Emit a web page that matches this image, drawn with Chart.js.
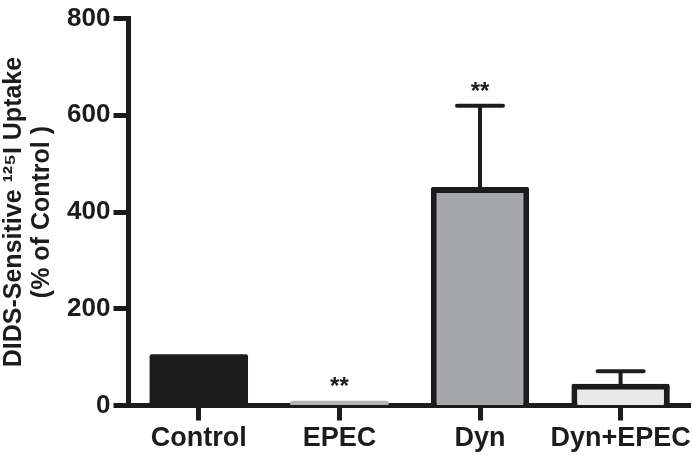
<!DOCTYPE html>
<html><head><meta charset="utf-8">
<script src="https://cdn.jsdelivr.net/npm/chart.js@4/dist/chart.umd.min.js"></script>
<style>html,body{margin:0;padding:0;background:#fff}</style>
</head><body>
<canvas id="c" width="693" height="456"></canvas>
<script>
const categories = ['Control', 'EPEC', 'Dyn', 'Dyn+EPEC'];
const means = [106, 10, 452, 45];
const errors = [0, 0, 168, 26];
const marks = ['', '**', '**', ''];
const yTicks = [0, 200, 400, 600, 800];
const fills = ['#1c1c1c', '#b4b4b4', '#a6a7ab', '#e8eae9'];
const borders = ['#1c1c1c', '#b4b4b4', '#1c1c1c', '#1c1c1c'];
const borderWidths = [0, 0, 6, 6];
const INK = '#1c1c1c';
const FONT = '"Liberation Sans", Arial, sans-serif';

const errPlugin = {
  id: 'err',
  afterDatasetsDraw(chart) {
    const ctx = chart.ctx, y = chart.scales.y;
    const meta = chart.getDatasetMeta(0);
    meta.data.forEach((bar, i) => {
      let top = bar.y;
      ctx.save();
      if (errors[i] > 0) {
        const yt = y.getPixelForValue(means[i] + errors[i]);
        ctx.strokeStyle = INK; ctx.lineWidth = 4; ctx.lineCap = 'round';
        ctx.beginPath();
        ctx.moveTo(bar.x, bar.y); ctx.lineTo(bar.x, yt);
        ctx.moveTo(bar.x - 23, yt); ctx.lineTo(bar.x + 23, yt);
        ctx.stroke();
        top = yt;
      }
      if (marks[i]) {
        ctx.fillStyle = INK;
        ctx.font = 'bold 24px ' + FONT;
        ctx.textAlign = 'center';
        ctx.textBaseline = 'alphabetic';
        ctx.fillText(marks[i], bar.x, top - 7);
      }
      ctx.restore();
    });
  }
};

new Chart(document.getElementById('c'), {
  type: 'bar',
  data: {
    labels: categories,
    datasets: [{
      data: means,
      backgroundColor: fills,
      borderColor: borders,
      borderWidth: borderWidths,
      borderRadius: 2,
      borderSkipped: 'start',
      barPercentage: 0.7,
      categoryPercentage: 1.0
    }]
  },
  options: {
    responsive: false,
    animation: false,
    layout: { padding: { top: 12.5, right: 2, left: 0, bottom: 0 } },
    plugins: { legend: { display: false }, tooltip: { enabled: false } },
    scales: {
      x: {
        z: 1,
        offset: true,
        border: { display: true, width: 5, color: INK },
        grid: { display: true, drawOnChartArea: false, drawTicks: true, tickLength: 15, tickWidth: 5, tickColor: INK, offset: false },
        ticks: { color: INK, font: { family: FONT, size: 27, weight: 'bold' }, padding: 2, maxRotation: 0, autoSkip: false },
        afterFit: s => { s.height = 50.5; }
      },
      y: {
        z: 1,
        min: 0, max: 800,
        afterBuildTicks: s => { s.ticks = yTicks.map(v => ({ value: v })); },
        border: { display: true, width: 5, color: INK },
        grid: { display: true, drawOnChartArea: false, drawTicks: true, tickLength: 15, tickWidth: 5, tickColor: INK },
        ticks: { color: INK, font: { family: FONT, size: 26, weight: 'bold' }, padding: 3 },
        title: {
          display: true,
          text: ['DIDS-Sensitive \u00B9\u00B2\u2075I Uptake', '(% of Control )'],
          color: INK,
          font: { family: FONT, size: 25, weight: 'bold', lineHeight: 28 / 25 },
          padding: { top: 0, bottom: 0 }
        },
        afterFit: s => { s.width = 128.5; }
      }
    }
  },
  plugins: [errPlugin]
});
</script>
</body></html>
